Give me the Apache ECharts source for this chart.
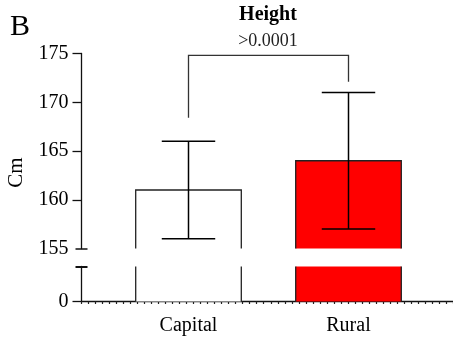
<!DOCTYPE html>
<html>
<head>
<meta charset="utf-8">
<script src="https://cdn.jsdelivr.net/npm/echarts@6/dist/echarts.min.js"></script>
<style>
  html, body { margin: 0; padding: 0; background: #fff; }
  #chart { width: 453px; height: 339px; }
</style>
</head>
<body>
<div id="chart"></div>
<script>
// Groups and mean height with error range (cm)
const categories = ['Capital', 'Rural'];
const means = [161, 164];
const errLow = [156, 157];
const errHigh = [166, 171];
const barColors = ['#ffffff', '#ff0000'];

// Broken y axis: upper segment ticks and the lower segment range
const upperTicks = [155, 160, 165, 170, 175];
const lowerRange = [0, 10];

// Comparison bracket between the two groups
const bracketTop = 174.8;
const bracketLegEnds = [168.4, 172.1];
const pText = '>0.0001';
const panelLabel = 'B';
const chartTitle = 'Height';
const yName = 'Cm';

const FONT = '"Liberation Serif", "Times New Roman", Times, serif';
const INK = '#111';
const upperMin = upperTicks[0];
const upperMax = upperTicks[upperTicks.length - 1];
const AXIS_OFFSET = 27;

const upperData = categories.map((c, i) => [i, means[i], errLow[i], errHigh[i]]);
const lowerData = categories.map((c, i) => [i, Math.min(means[i], lowerRange[1])]);

function upperBar(params, api) {
  const i = api.value(0);
  const top = api.coord([i, api.value(1)]);
  const base = api.coord([i, upperMin]);
  const lo = api.coord([i, api.value(2)]);
  const hi = api.coord([i, api.value(3)]);
  const band = api.size([1, 0])[0];
  const hw = band * 0.33, cw = band * 0.167;
  const x = top[0];
  return {
    type: 'group',
    children: [
      { type: 'rect', shape: { x: x - hw, y: top[1], width: hw * 2, height: base[1] - top[1] },
        style: { fill: barColors[i] } },
      { type: 'polyline', shape: { points: [[x - hw, base[1]], [x - hw, top[1]], [x + hw, top[1]], [x + hw, base[1]]] },
        style: { stroke: '#222', lineWidth: 1.3, fill: null } },
      { type: 'line', shape: { x1: x, y1: lo[1], x2: x, y2: hi[1] }, style: { stroke: '#000', lineWidth: 1.5 } },
      { type: 'line', shape: { x1: x - cw, y1: lo[1], x2: x + cw, y2: lo[1] }, style: { stroke: '#000', lineWidth: 1.5 } },
      { type: 'line', shape: { x1: x - cw, y1: hi[1], x2: x + cw, y2: hi[1] }, style: { stroke: '#000', lineWidth: 1.5 } }
    ]
  };
}

function lowerBar(params, api) {
  const i = api.value(0);
  const top = api.coord([i, api.value(1)]);
  const base = api.coord([i, lowerRange[0]]);
  const band = api.size([1, 0])[0];
  const hw = band * 0.33;
  const x = top[0];
  return {
    type: 'group',
    children: [
      { type: 'rect', shape: { x: x - hw, y: top[1], width: hw * 2, height: base[1] - top[1] },
        style: { fill: barColors[i] } },
      { type: 'line', shape: { x1: x - hw, y1: top[1], x2: x - hw, y2: base[1] }, style: { stroke: '#222', lineWidth: 1.3 } },
      { type: 'line', shape: { x1: x + hw, y1: top[1], x2: x + hw, y2: base[1] }, style: { stroke: '#222', lineWidth: 1.3 } }
    ]
  };
}

function bracketItem(params, api) {
  const a = api.coord([0, bracketTop]);
  const b = api.coord([1, bracketTop]);
  const aEnd = api.coord([0, bracketLegEnds[0]]);
  const bEnd = api.coord([1, bracketLegEnds[1]]);
  return {
    type: 'polyline',
    shape: { points: [[a[0], aEnd[1]], [a[0], a[1]], [b[0], b[1]], [b[0], bEnd[1]]] },
    style: { stroke: '#333', lineWidth: 1.3, fill: null }
  };
}

const labelStyle = { fontFamily: FONT, fontSize: 20, color: '#000' };

const chart = echarts.init(document.getElementById('chart'), null, { renderer: 'canvas' });
chart.setOption({
  animation: false,
  backgroundColor: '#fff',
  title: [
    { text: panelLabel, left: 10, top: 12, padding: 0,
      textStyle: { fontFamily: FONT, fontSize: 30, fontWeight: 'normal', color: '#000' } },
    { text: chartTitle, subtext: pText, left: 268, textAlign: 'center', top: 5, padding: 0, itemGap: 7,
      textStyle: { fontFamily: FONT, fontSize: 20, fontWeight: 'bold', color: '#000' },
      subtextStyle: { fontFamily: FONT, fontSize: 18, color: '#222' } }
  ],
  graphic: [
    { type: 'text', x: 16.5, y: 172.5, rotation: Math.PI / 2,
      style: { text: yName, font: '21px ' + FONT, fill: '#000', align: 'center', verticalAlign: 'middle' } }
  ],
  grid: [
    { left: 108.5, width: 320, top: 53.5, height: 195 },
    { left: 108.5, width: 320, top: 266.5, height: 35 },
    { left: 81.5, right: 0, top: 300.5, height: 1 }
  ],
  xAxis: [
    { gridIndex: 0, type: 'category', data: categories, show: false },
    { gridIndex: 1, type: 'category', data: categories,
      axisLine: { show: false },
      axisTick: { alignWithLabel: true, length: 9, lineStyle: { color: INK, width: 1.3 } },
      axisLabel: Object.assign({ margin: 14 }, labelStyle) },
    { gridIndex: 2, type: 'value', min: 0, max: 53, interval: 1,
      axisLine: { show: true, lineStyle: { color: INK, width: 1.3 } },
      axisTick: { show: true, length: 2.5, lineStyle: { color: '#222', width: 1.2 } },
      axisLabel: { show: false }, splitLine: { show: false } }
  ],
  yAxis: [
    // upper segment
    { gridIndex: 0, type: 'value', position: 'left', offset: AXIS_OFFSET,
      min: upperMin, max: upperMax, interval: upperTicks[1] - upperTicks[0],
      axisLine: { show: true, lineStyle: { color: INK, width: 1.3 } },
      axisTick: { show: true, length: 9, customValues: upperTicks.slice(1), lineStyle: { color: INK, width: 1.3 } },
      axisLabel: Object.assign({ margin: 13 }, labelStyle),
      splitLine: { show: false } },
    { gridIndex: 0, type: 'value', position: 'left', offset: AXIS_OFFSET, min: upperMin, max: upperMax,
      axisLine: { show: false }, axisLabel: { show: false }, splitLine: { show: false },
      axisTick: { show: true, length: 6, customValues: [upperMin], lineStyle: { color: INK, width: 1.5 } } },
    { gridIndex: 0, type: 'value', position: 'left', offset: AXIS_OFFSET, min: upperMin, max: upperMax,
      axisLine: { show: false }, axisLabel: { show: false }, splitLine: { show: false },
      axisTick: { show: true, inside: true, length: 6, customValues: [upperMin], lineStyle: { color: INK, width: 1.5 } } },
    // lower segment
    { gridIndex: 1, type: 'value', position: 'left', offset: AXIS_OFFSET,
      min: lowerRange[0], max: lowerRange[1], interval: lowerRange[1] - lowerRange[0],
      axisLine: { show: true, lineStyle: { color: INK, width: 1.3 } },
      axisTick: { show: true, length: 9, customValues: [lowerRange[0]], lineStyle: { color: INK, width: 1.3 } },
      axisLabel: Object.assign({ margin: 13, customValues: [lowerRange[0]] }, labelStyle),
      splitLine: { show: false } },
    { gridIndex: 1, type: 'value', position: 'left', offset: AXIS_OFFSET, min: lowerRange[0], max: lowerRange[1],
      axisLine: { show: false }, axisLabel: { show: false }, splitLine: { show: false },
      axisTick: { show: true, length: 6, customValues: [lowerRange[1]], lineStyle: { color: INK, width: 2 } } },
    { gridIndex: 1, type: 'value', position: 'left', offset: AXIS_OFFSET, min: lowerRange[0], max: lowerRange[1],
      axisLine: { show: false }, axisLabel: { show: false }, splitLine: { show: false },
      axisTick: { show: true, inside: true, length: 6, customValues: [lowerRange[1]], lineStyle: { color: INK, width: 2 } } },
    // baseline strip
    { gridIndex: 2, type: 'value', show: false }
  ],
  series: [
    { type: 'custom', xAxisIndex: 0, yAxisIndex: 0, renderItem: upperBar, data: upperData,
      encode: { x: 0, y: 1 }, z: 2 },
    { type: 'custom', xAxisIndex: 1, yAxisIndex: 3, renderItem: lowerBar, data: lowerData,
      encode: { x: 0, y: 1 }, z: 2 },
    { type: 'custom', xAxisIndex: 0, yAxisIndex: 0, renderItem: bracketItem, data: [[0, bracketTop]],
      encode: { x: 0, y: 1 }, z: 3 }
  ]
});
</script>
</body>
</html>
